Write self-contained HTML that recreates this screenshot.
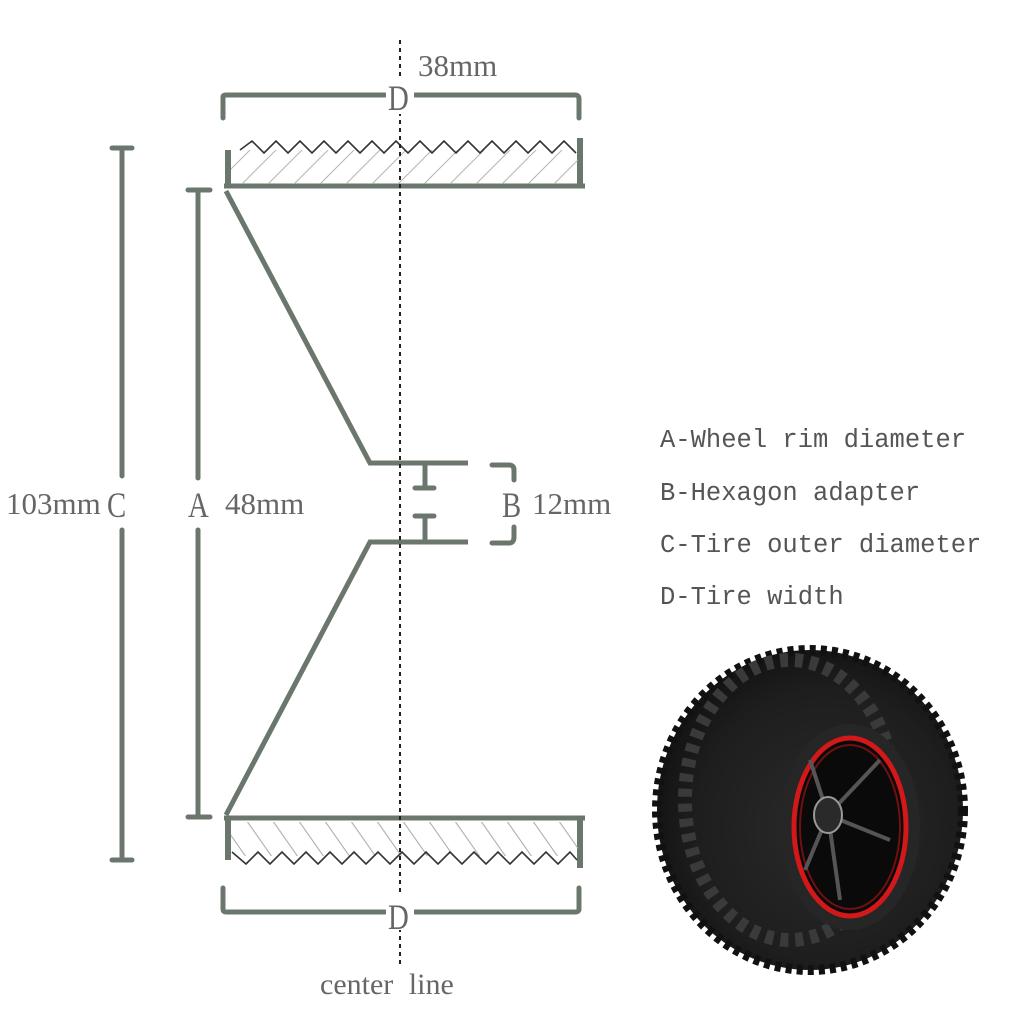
<!DOCTYPE html>
<html><head><meta charset="utf-8"><style>
html,body{margin:0;padding:0;background:#fff;}
svg{display:block;}
</style></head><body>
<svg width="1024" height="1024" viewBox="0 0 1024 1024" xmlns="http://www.w3.org/2000/svg">
<defs>
<pattern id="h1" width="26" height="40" patternUnits="userSpaceOnUse" patternTransform="skewX(-45)">
<line x1="10" y1="0" x2="10" y2="40" stroke="#a8aca8" stroke-width="1.3"/>
</pattern>
<pattern id="h2" width="26" height="40" patternUnits="userSpaceOnUse" patternTransform="skewX(35)">
<line x1="10" y1="0" x2="10" y2="40" stroke="#a8aca8" stroke-width="1.3"/>
</pattern>
<radialGradient id="tg" cx="0.55" cy="0.55" r="0.6">
<stop offset="0" stop-color="#2a2a2a"/><stop offset="0.7" stop-color="#1e1e1e"/><stop offset="1" stop-color="#111"/>
</radialGradient>
</defs>
<g stroke="#6b776c" fill="none" stroke-linecap="round">
<path d="M223 118 V97 Q223 95 226 95 H385 M415 95 H575 Q579 95 579 99 V118" stroke-width="5"/>
<path d="M223 888 V909 Q223 912 226 912 H385 M415 912 H575 Q579 912 579 909 V888" stroke-width="5"/>
<path d="M122 148 V476 M122 530 V860 M112 148 H132 M112 860 H132" stroke-width="5"/>
<path d="M198 190 V478 M198 530 V817 M188 190 H210 M188 817 H210" stroke-width="5"/>
<path d="M226 191 L370 463 H468 M226 815 L370 542 H468" stroke-width="5" stroke-linecap="butt"/>
<path d="M425 465 V487 M415 488 H434 M425 517 V541 M415 516 H434" stroke-width="5"/>
<path d="M492 465 H509 Q514 465 514 470 V480 M514 527 V537 Q514 543 509 543 H492" stroke-width="5"/>
<path d="M228 150 V185 M580 138 V188" stroke-width="6" stroke-linecap="butt"/>
<path d="M224 186 H585" stroke-width="5" stroke-linecap="butt"/>
<path d="M228 820 V860 M580 820 V868" stroke-width="6" stroke-linecap="butt"/>
<path d="M224 818 H585" stroke-width="5" stroke-linecap="butt"/>
</g>
<rect x="231" y="150" width="347" height="34" fill="url(#h1)"/>
<rect x="231" y="822" width="347" height="34" fill="url(#h2)"/>
<polyline fill="none" stroke="#333" stroke-width="1.6" points="240,150 252,141 264,153 276,141 288,153 300,141 312,153 324,141 336,153 348,141 360,153 372,141 384,153 396,141 408,153 420,141 432,153 444,141 456,153 468,141 480,153 492,141 504,153 516,141 528,153 540,141 552,153 564,141 576,153"/>
<polyline fill="none" stroke="#333" stroke-width="1.6" points="232,852 246,864 258,852 270,864 282,852 294,864 306,852 318,864 330,852 342,864 354,852 366,864 378,852 390,864 402,852 414,864 426,852 438,864 450,852 462,864 474,852 486,864 498,852 510,864 522,852 534,864 546,852 558,864 570,852 577,860"/>
<line x1="400" y1="40" x2="400" y2="965" stroke="#222" stroke-width="2" stroke-dasharray="4,4"/>
<rect x="386" y="80" width="28" height="34" fill="#fff"/>
<rect x="386" y="896" width="28" height="34" fill="#fff"/>
<g font-family="Liberation Serif, serif" fill="#666">
<text x="418" y="76" font-size="31">38mm</text>
<text x="388" y="110" font-size="36" transform="translate(388 0) scale(0.8 1) translate(-388 0)">D</text>
<text x="388" y="929" font-size="36" transform="translate(388 0) scale(0.8 1) translate(-388 0)">D</text>
<text x="6" y="514" font-size="31">103mm</text>
<text x="107" y="517" font-size="36" transform="translate(107 0) scale(0.8 1) translate(-107 0)">C</text>
<text x="188" y="517" font-size="36" transform="translate(188 0) scale(0.8 1) translate(-188 0)">A</text>
<text x="225" y="514" font-size="31">48mm</text>
<text x="502" y="517" font-size="36" transform="translate(502 0) scale(0.8 1) translate(-502 0)">B</text>
<text x="532" y="514" font-size="31">12mm</text>
<text x="320" y="994" font-size="30" word-spacing="8">center line</text>
</g>
<g font-family="Liberation Mono, monospace" fill="#555" font-size="25.5">
<text x="660" y="447">A-Wheel rim diameter</text>
<text x="660" y="500">B-Hexagon adapter</text>
<text x="660" y="552">C-Tire outer diameter</text>
<text x="660" y="604">D-Tire width</text>
</g>
<g>
<ellipse cx="810" cy="810" rx="153" ry="160" fill="url(#tg)"/>
<ellipse cx="810" cy="810" rx="153" ry="160" fill="none" stroke="#111" stroke-width="10" stroke-dasharray="6,5"/>
<ellipse cx="790" cy="800" rx="105" ry="140" fill="none" stroke="#3a3a3a" stroke-width="14" stroke-dasharray="8,7"/>
<ellipse cx="850" cy="827" rx="70" ry="103" fill="#262626"/>
<ellipse cx="850" cy="827" rx="56" ry="89" fill="#0a0a0a" stroke="#d21818" stroke-width="5"/>
<ellipse cx="850" cy="827" rx="50" ry="82" fill="none" stroke="#701010" stroke-width="2"/>
<g stroke="#555" stroke-width="4" fill="none">
<path d="M828 815 L880 760 M828 815 L890 840 M828 815 L840 900 M828 815 L810 760 M828 815 L805 870"/>
</g>
<ellipse cx="828" cy="815" rx="14" ry="18" fill="#2a2a2a" stroke="#999" stroke-width="2"/>
</g>
</svg>
</body></html>
